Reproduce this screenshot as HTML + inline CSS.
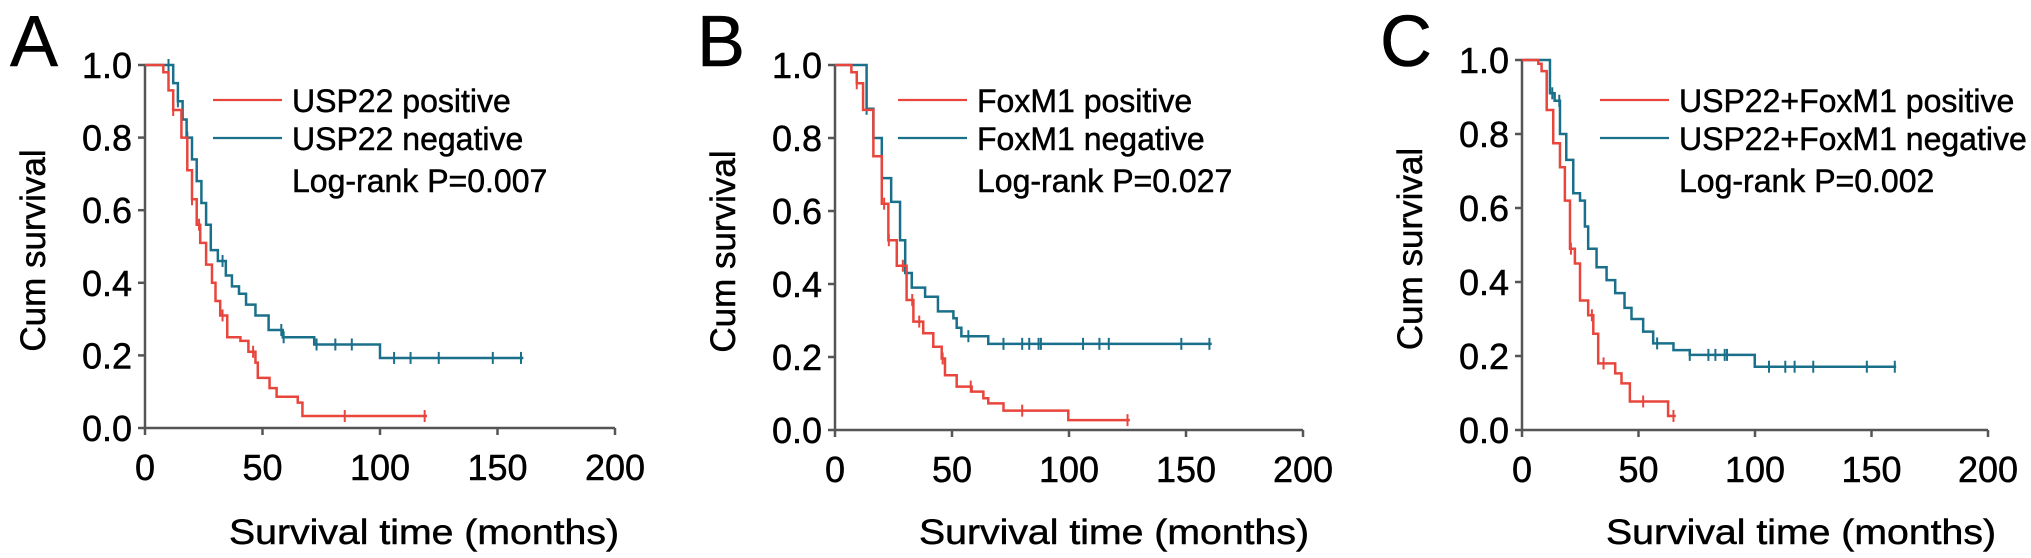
<!DOCTYPE html>
<html><head><meta charset="utf-8"><style>
body{margin:0;background:#fff;}
svg text{font-family:"Liberation Sans",Arial,sans-serif;fill:#000;stroke:#000;stroke-width:0.5;}
</style></head><body>
<svg id="fig" width="2031" height="553" viewBox="0 0 2031 553"></svg>
<script>
// Panel A
const aPosT=[0,7.8,10,12,15.5,18,20,22,23.5,26,28.5,30,32,35,40.6,44,47,48,53,56,65,67,120];
const aPosS=[1,0.98,0.93,0.876,0.8,0.71,0.63,0.56,0.51,0.45,0.40,0.35,0.31,0.25,0.24,0.21,0.18,0.138,0.11,0.086,0.07,0.033,0.033];
const aPosCens=[12,20,23,33,46,85,119];
const aNegT=[0,9.8,12,14,16,17.7,20,22,24,26,28,31,34.4,37,40,43,47,52.6,58.6,72,100,161];
const aNegS=[1,1,0.95,0.9,0.85,0.8,0.74,0.68,0.62,0.56,0.49,0.46,0.42,0.39,0.37,0.34,0.31,0.27,0.25,0.23,0.193,0.193];
const aNegCens=[10,14,18,33,58,59,73,81,88,106,113,125,148,160];
// Panel B
const bPosT=[0,7,9.3,12,16.4,20,22.8,26.4,30.6,33.5,37.7,42,45.6,47,52,58.4,63.4,65.5,72,99.7,126];
const bPosS=[1,0.98,0.95,0.877,0.75,0.62,0.52,0.45,0.356,0.297,0.265,0.228,0.196,0.15,0.119,0.105,0.087,0.073,0.053,0.027,0.027];
const bPosCens=[9.3,21,23,29,33,36,46,58,80,125];
const bNegT=[0,9.5,13.5,16.4,20,24,27.8,30,32.8,38.5,44,50.6,52,54,65.5,161];
const bNegS=[1,1,0.88,0.8,0.69,0.625,0.52,0.43,0.39,0.365,0.325,0.306,0.28,0.257,0.236,0.236];
const bNegCens=[13.5,57,72,80,83,87,88,106,113,117,148,160];
// Panel C
const cPosT=[0,7,8.4,10.6,13.4,16.3,18.4,20.6,22.7,24.9,28.4,30.6,32.7,40,42.7,46.3,62.7,66];
const cPosS=[1,0.99,0.97,0.865,0.775,0.71,0.62,0.49,0.45,0.35,0.31,0.26,0.18,0.153,0.126,0.077,0.038,0.038];
const cPosCens=[21,30,35,52,65];
const cNegT=[0,9.1,12,14,16.3,19,22,24.9,27,28.4,32,36.3,40,44,47,52,56.3,65,72,99.9,160.6];
const cNegS=[1,1,0.91,0.89,0.8,0.73,0.64,0.62,0.55,0.49,0.44,0.405,0.37,0.33,0.30,0.266,0.234,0.216,0.203,0.171,0.171];
const cNegCens=[13,16,58,72,80,83,87,88,106,113,117,125,148,160];
const yTicks=[0,0.2,0.4,0.6,0.8,1.0];
const yTickLabels=["0.0","0.2","0.4","0.6","0.8","1.0"];
const xTicks=[0,50,100,150,200];

const NS="http://www.w3.org/2000/svg";
const svg=document.getElementById('fig');
const RED="#e8453c", BLUE="#1a6f8a";
function mk(tag,attrs,parent){const e=document.createElementNS(NS,tag);for(const k in attrs)e.setAttribute(k,attrs[k]);(parent||svg).appendChild(e);return e;}

function panel(cfg){
  const g=mk('g',{});
  
  
  const x=t=>cfg.x0+t*cfg.kx;
  const y=s=>cfg.yb-s*(cfg.yb-cfg.yt);
  const lt=mk('text',{x:cfg.lx,y:66,'font-size':72,'stroke-width':0},g);lt.textContent=cfg.letter;
  
  
  const ax=mk('path',{d:`M${x(0)},${y(1)}V${y(0)}H${x(200)}`,stroke:'#555',fill:'none','stroke-width':2.5},g);
  
  
  yTicks.forEach((v,i)=>{
    mk('line',{x1:x(0)-7,x2:x(0),y1:y(v),y2:y(v),stroke:'#555','stroke-width':2.5},g);
    const t=mk('text',{x:x(0)-13,y:y(v)+13,'font-size':36,'text-anchor':'end'},g);t.textContent=yTickLabels[i];
    
    
  });
  xTicks.forEach(v=>{
    mk('line',{x1:x(v),x2:x(v),y1:y(0),y2:y(0)+7,stroke:'#555','stroke-width':2.5},g);
    const t=mk('text',{x:x(v),y:y(0)+52,'font-size':36,'text-anchor':'middle'},g);t.textContent=v;
    
    
  });
  const xt=mk('text',{x:cfg.tx,y:544,'font-size':35,'text-anchor':'middle',textLength:390,lengthAdjust:'spacingAndGlyphs'},g);xt.textContent='Survival time (months)';
  
  
  const yt=mk('text',{x:0,y:0,'font-size':35,'text-anchor':'middle',transform:`translate(${cfg.x0-100},${(y(0)+y(1))/2+4}) rotate(-90)`},g);yt.textContent='Cum survival';
  
  
  function series(T,S,C,col,name){
    let d=`M${x(T[0])},${y(S[0])}`;
    for(let i=1;i<T.length;i++){d+=`H${x(T[i])}V${y(S[i])}`;}
    const p=mk('path',{d,stroke:col,fill:'none','stroke-width':2.5},g);
    
    
    C.forEach(c=>{
      let s=S[0];for(let i=0;i<T.length;i++){if(T[i]<=c)s=S[i];}
      const m=mk('line',{x1:x(c),x2:x(c),y1:y(s)-6,y2:y(s)+6,stroke:col,'stroke-width':2},g);
      
      
    });
  }
  series(cfg.negT,cfg.negS,cfg.negC,BLUE,'negative');
  series(cfg.posT,cfg.posS,cfg.posC,RED,'positive');
  [[RED,100,cfg.names[0]],[BLUE,138,cfg.names[1]]].forEach(([col,yy,lab],i)=>{
    const l=mk('line',{x1:cfg.legx,x2:cfg.legx+69,y1:yy,y2:yy,stroke:col,'stroke-width':2.2},g);
    
    
    const t=mk('text',{x:cfg.legx+79,y:yy+12,'font-size':32},g);t.textContent=lab;
    
    
  });
  const p=mk('text',{x:cfg.legx+79,y:192,'font-size':32},g);p.textContent=cfg.p;
  
  
}
panel({letter:'A',lx:10,x0:145,kx:2.35,yt:65,yb:428,tx:424,legx:213,
  posT:aPosT,posS:aPosS,posC:aPosCens,negT:aNegT,negS:aNegS,negC:aNegCens,
  names:['USP22 positive','USP22 negative'],p:'Log-rank P=0.007'});
panel({letter:'B',lx:697,x0:835,kx:2.34,yt:65,yb:430,tx:1114,legx:898,
  posT:bPosT,posS:bPosS,posC:bPosCens,negT:bNegT,negS:bNegS,negC:bNegCens,
  names:['FoxM1 positive','FoxM1 negative'],p:'Log-rank P=0.027'});
panel({letter:'C',lx:1380,x0:1522,kx:2.33,yt:60,yb:430,tx:1801,legx:1600,
  posT:cPosT,posS:cPosS,posC:cPosCens,negT:cNegT,negS:cNegS,negC:cNegCens,
  names:['USP22+FoxM1 positive','USP22+FoxM1 negative'],p:'Log-rank P=0.002'});
</script>
</body></html>
